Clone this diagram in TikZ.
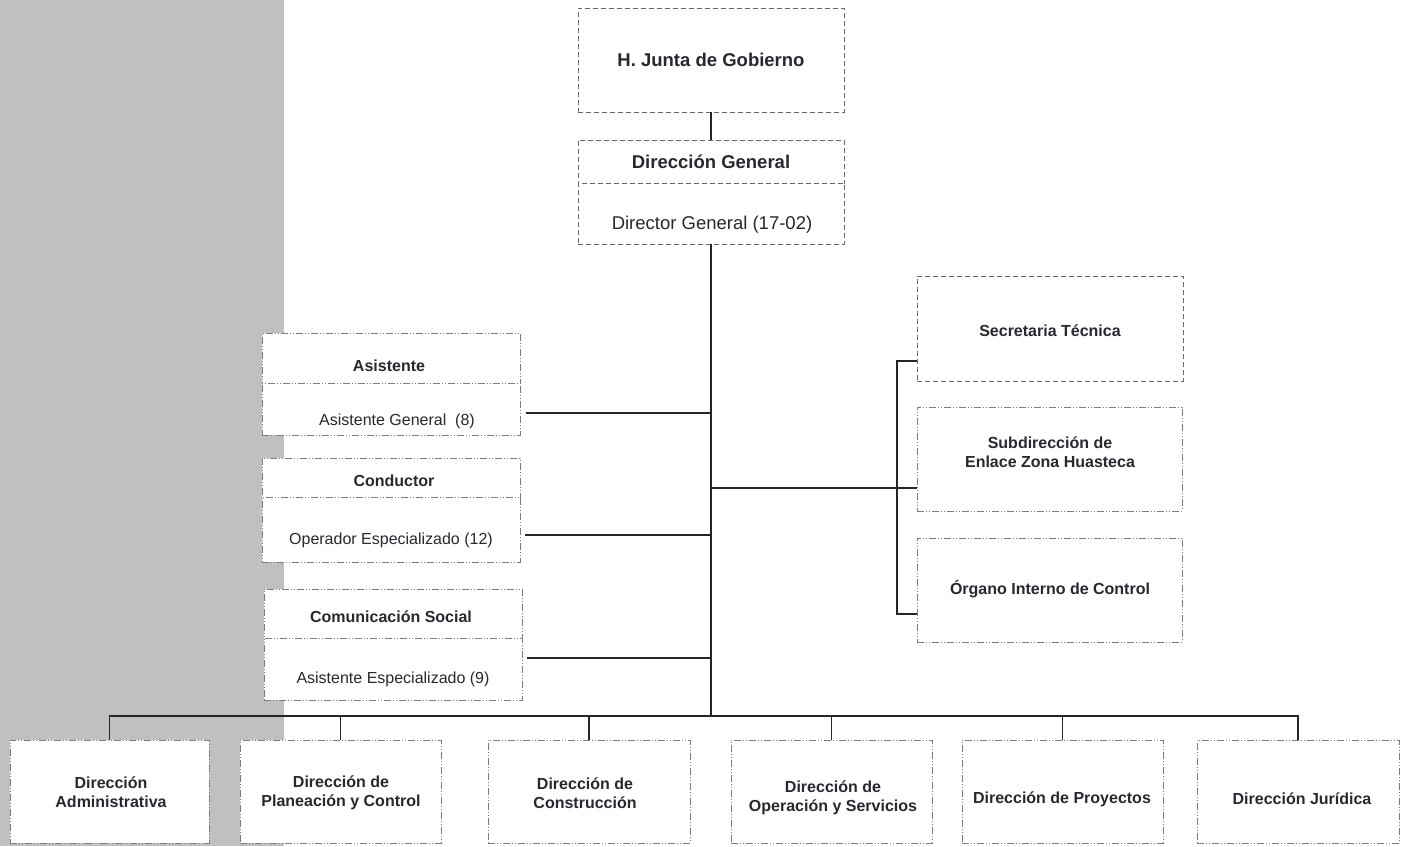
\documentclass[tikz,border=0pt]{standalone}
\usepackage{fontspec}
\setmainfont{Liberation Sans}
\definecolor{bggray}{RGB}{192,192,195}
\definecolor{linegray}{RGB}{105,105,108}
\definecolor{linegrayB}{RGB}{125,125,128}
\definecolor{conncol}{RGB}{38,38,38}
\definecolor{textcol}{RGB}{40,40,48}
\begin{document}
\begin{tikzpicture}[x=1pt,y=-1pt,
  boxA/.style={draw=linegray, dash pattern=on 5pt off 3pt, fill=white, line width=0.9pt, inner sep=0pt, outer sep=0pt},
  boxB/.style={draw=linegrayB, dash pattern=on 7pt off 2pt on 1pt off 2pt on 1pt off 2pt, fill=white, line width=0.8pt, inner sep=0pt, outer sep=0pt},
  lblb/.style={text=textcol, font=\fontsize{16}{19.5}\selectfont\bfseries, align=center, inner sep=0pt},
  lblr/.style={text=textcol, font=\fontsize{16}{19.5}\selectfont, align=center, inner sep=0pt},
  lblB/.style={text=textcol, font=\fontsize{18.5}{22}\selectfont\bfseries, align=center, inner sep=0pt},
  lblR/.style={text=textcol, font=\fontsize{18.5}{22}\selectfont, align=center, inner sep=0pt},
  conn/.style={draw=conncol, line width=1.8pt}
]
\useasboundingbox (0,0) rectangle (1405,846);
\fill[white] (0,0) rectangle (1405,846);
\fill[bggray] (0,0) rectangle (284,846);

% top
\node[boxA, minimum width=266, minimum height=104] (junta) at (711,60) {};
\node[lblB] (tjunta) at (711,60) {H. Junta de Gobierno};
\node[boxA, minimum width=266, minimum height=43] (dgT) at (711,161.5) {};
\node[boxA, minimum width=266, minimum height=61] (dgB) at (711,213.5) {};
\node[lblB] (tdgT) at (711,162) {Dirección General};
\node[lblR] (tdgB) at (712,225) {Director General (17-02)};

% left boxes
\node[boxB, minimum width=258, minimum height=50] (asisT) at (391,358) {};
\node[boxB, minimum width=258, minimum height=52] (asisB) at (391,409) {};
\node[lblb] (tasisT) at (389,366) {Asistente};
\node[lblr] (tasisB) at (397,421) {Asistente General\ \ (8)};

\node[boxB, minimum width=258, minimum height=39] (condT) at (391,477.5) {};
\node[boxB, minimum width=258, minimum height=65] (condB) at (391,529.5) {};
\node[lblb] (tcondT) at (394,481) {Conductor};
\node[lblr] (tcondB) at (391,540) {Operador Especializado (12)};

\node[boxB, minimum width=258, minimum height=49] (comT) at (393,613.5) {};
\node[boxB, minimum width=258, minimum height=62] (comB) at (393,669) {};
\node[lblb] (tcomT) at (391,617) {Comunicación Social};
\node[lblr] (tcomB) at (393,679) {Asistente Especializado (9)};

% right boxes
\node[boxA, minimum width=266, minimum height=105] (secre) at (1050,328.5) {};
\node[lblb] (tsecre) at (1050,331) {Secretaria Técnica};
\node[boxB, minimum width=265, minimum height=104] (subd) at (1049.5,459) {};
\node[lblb] (tsubd) at (1050,452) {Subdirección de\\Enlace Zona Huasteca};
\node[boxB, minimum width=265, minimum height=104] (organo) at (1049.5,590) {};
\node[lblb] (torgano) at (1050,589) {Órgano Interno de Control};

% bottom boxes
\node[boxB, minimum width=199, minimum height=103] (b1) at (109.5,791.5) {};
\node[boxB, minimum width=201, minimum height=103] (b2) at (340.5,791.5) {};
\node[boxB, minimum width=202, minimum height=103] (b3) at (589,791.5) {};
\node[boxB, minimum width=201, minimum height=103] (b4) at (831.5,791.5) {};
\node[boxB, minimum width=201, minimum height=103] (b5) at (1062.5,791.5) {};
\node[boxB, minimum width=202, minimum height=103] (b6) at (1298,791.5) {};
\node[lblb] (tb1) at (111,792) {Dirección\\Administrativa};
\node[lblb] (tb2) at (341,793) {Dirección de\\Planeación y Control};
\node[lblb] (tb3) at (585,793) {Dirección de\\Construcción};
\node[lblb] (tb4) at (833,798) {Dirección de\\Operación y Servicios};
\node[lblb] (tb5) at (1062,799) {Dirección de Proyectos};
\node[lblb] (tb6) at (1302,799) {Dirección Jurídica};

% connectors
\coordinate (busC) at (711,716);
\coordinate (c1) at (711,413);
\coordinate (c2) at (711,535);
\coordinate (c3) at (711,658);
\coordinate (c4) at (711,488);
\coordinate (brk) at (897,488);

\draw[conn] (junta.south) -- (dgT.north);
\draw[conn] (dgB.south) -- (busC);
\draw[conn, shorten <=6pt] (asisB.east |- c1) -- (c1);
\draw[conn, shorten <=5pt] (condB.east |- c2) -- (c2);
\draw[conn, shorten <=5pt] (comB.east |- c3) -- (c3);
\draw[conn] (c4) -- (subd.west |- c4);
\draw[conn] (secre.west |- 0,361) -| (brk) |- (organo.west |- 0,614);

\draw[conn] (b1.north) |- (busC) -| (b6.north);
\draw[conn] (b2.north) -- (b2.north |- busC);
\draw[conn] (b3.north) -- (b3.north |- busC);
\draw[conn] (b4.north) -- (b4.north |- busC);
\draw[conn] (b5.north) -- (b5.north |- busC);
\end{tikzpicture}
\end{document}
